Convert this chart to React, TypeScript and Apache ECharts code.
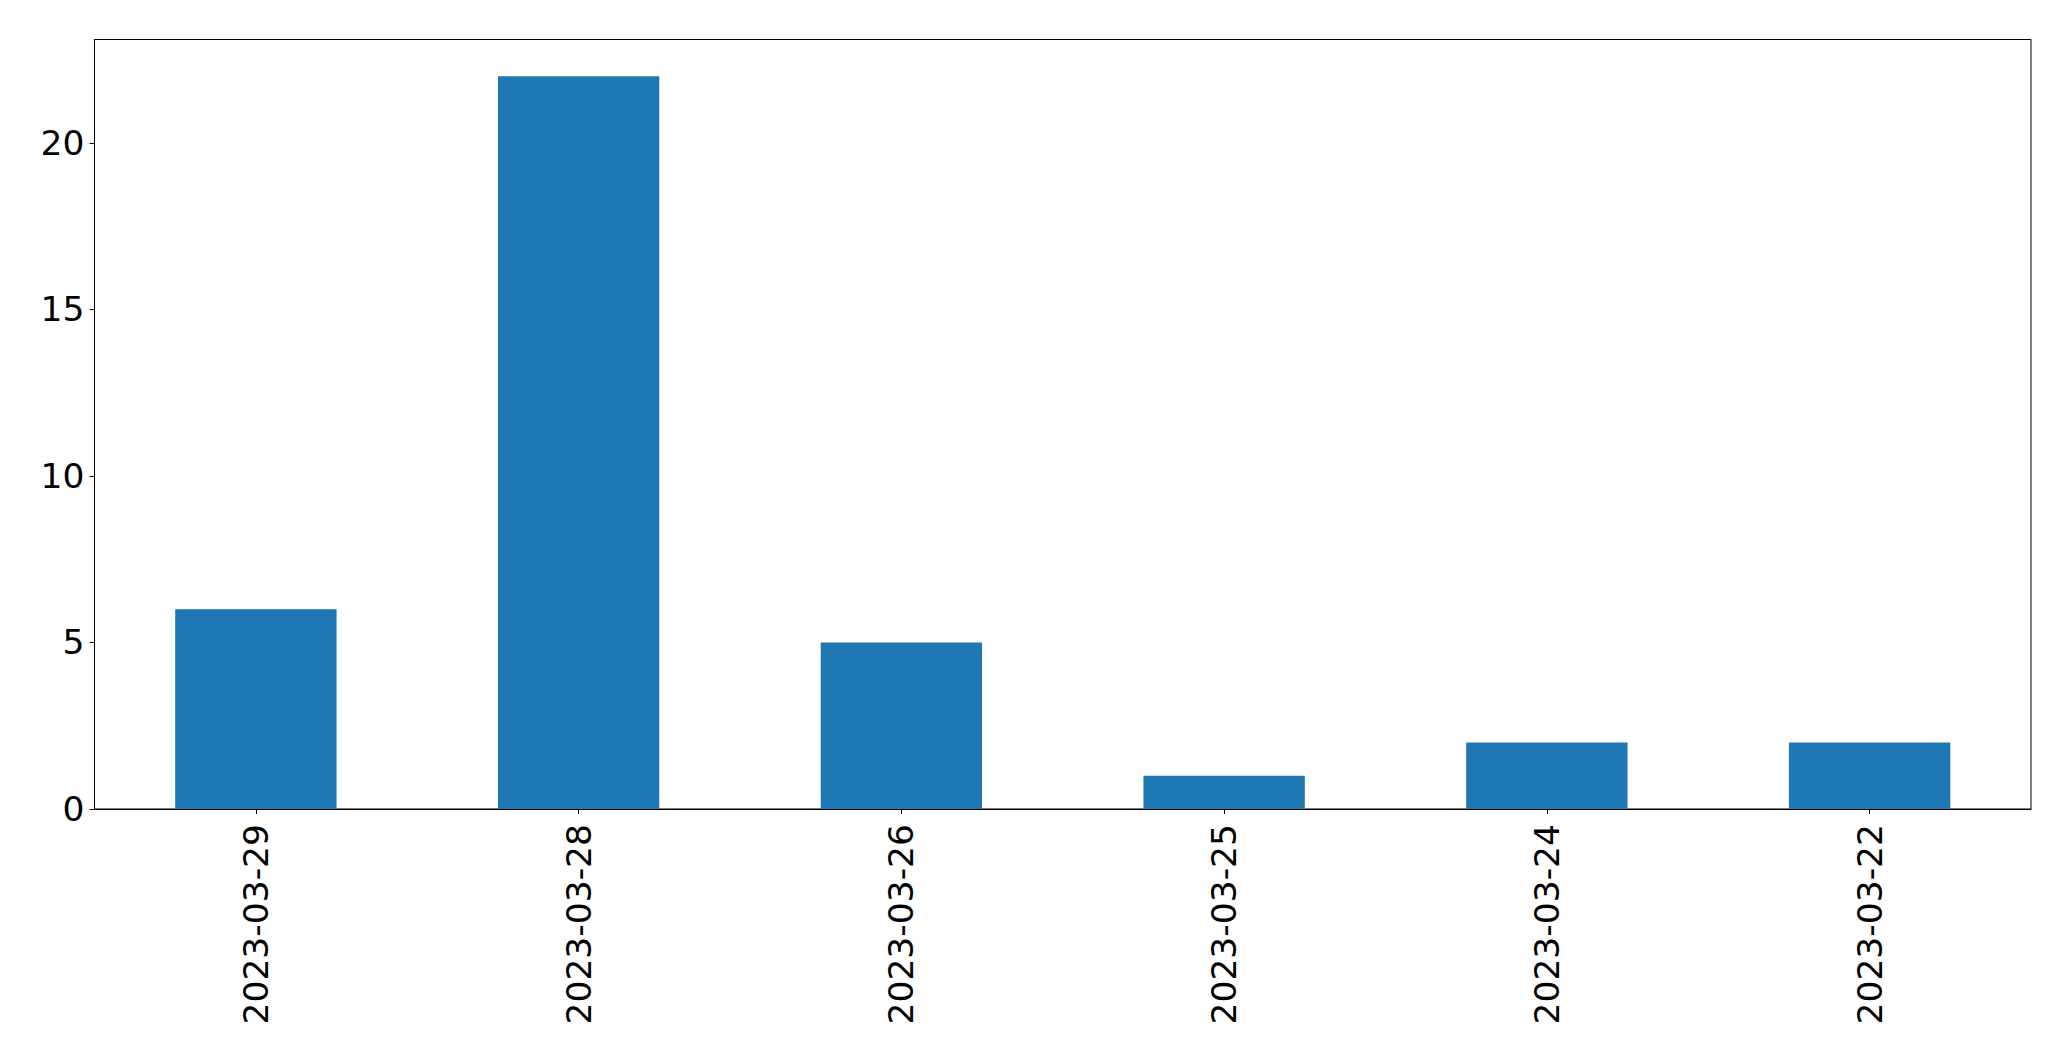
import React, { useEffect, useRef } from "react";
import * as echarts from "echarts";

const categories = ["2023-03-29", "2023-03-28", "2023-03-26", "2023-03-25", "2023-03-24", "2023-03-22"];
const values = [6, 22, 5, 1, 2, 2];
const yMin = 0;
const yMax = 23.1;
const yInterval = 5;

export default function App() {
  const ref = useRef<HTMLDivElement>(null);
  useEffect(() => {
    if (!ref.current) return;
    const chart = echarts.init(ref.current, undefined, { renderer: "svg" });
    const font = "DejaVu Sans";
    chart.setOption({
      animation: false,
      backgroundColor: "#ffffff",
      grid: {
        left: 94.5,
        right: 40,
        top: 39.5,
        bottom: 252,
        show: true,
        borderColor: "#000000",
        borderWidth: 1,
        backgroundColor: "transparent",
      },
      xAxis: {
        type: "category",
        data: categories,
        boundaryGap: true,
        axisLine: { show: true, lineStyle: { color: "#000000", width: 1 } },
        axisTick: { show: true, alignWithLabel: true, length: 5, lineStyle: { color: "#000000", width: 1 } },
        axisLabel: {
          rotate: 90,
          margin: 15,
          fontSize: 34.5,
          fontFamily: font,
          color: "#000000",
          interval: 0,
        },
        splitLine: { show: false },
      },
      yAxis: {
        type: "value",
        min: yMin,
        max: yMax,
        interval: yInterval,
        axisLine: { show: true, lineStyle: { color: "#000000", width: 1 } },
        axisTick: { show: true, length: 5, lineStyle: { color: "#000000", width: 1 } },
        axisLabel: {
          margin: 10,
          fontSize: 34.5,
          fontFamily: font,
          color: "#000000",
          showMaxLabel: false,
        },
        splitLine: { show: false },
      },
      series: [
        {
          type: "bar",
          data: values,
          barWidth: "50%",
          itemStyle: { color: "#1f77b4" },
        },
      ],
    });
    return () => chart.dispose();
  }, []);
  return (
    <div
      ref={ref}
      style={{ position: "fixed", left: 0, top: 0, width: "2071px", height: "1061px", background: "#fff" }}
    />
  );
}
